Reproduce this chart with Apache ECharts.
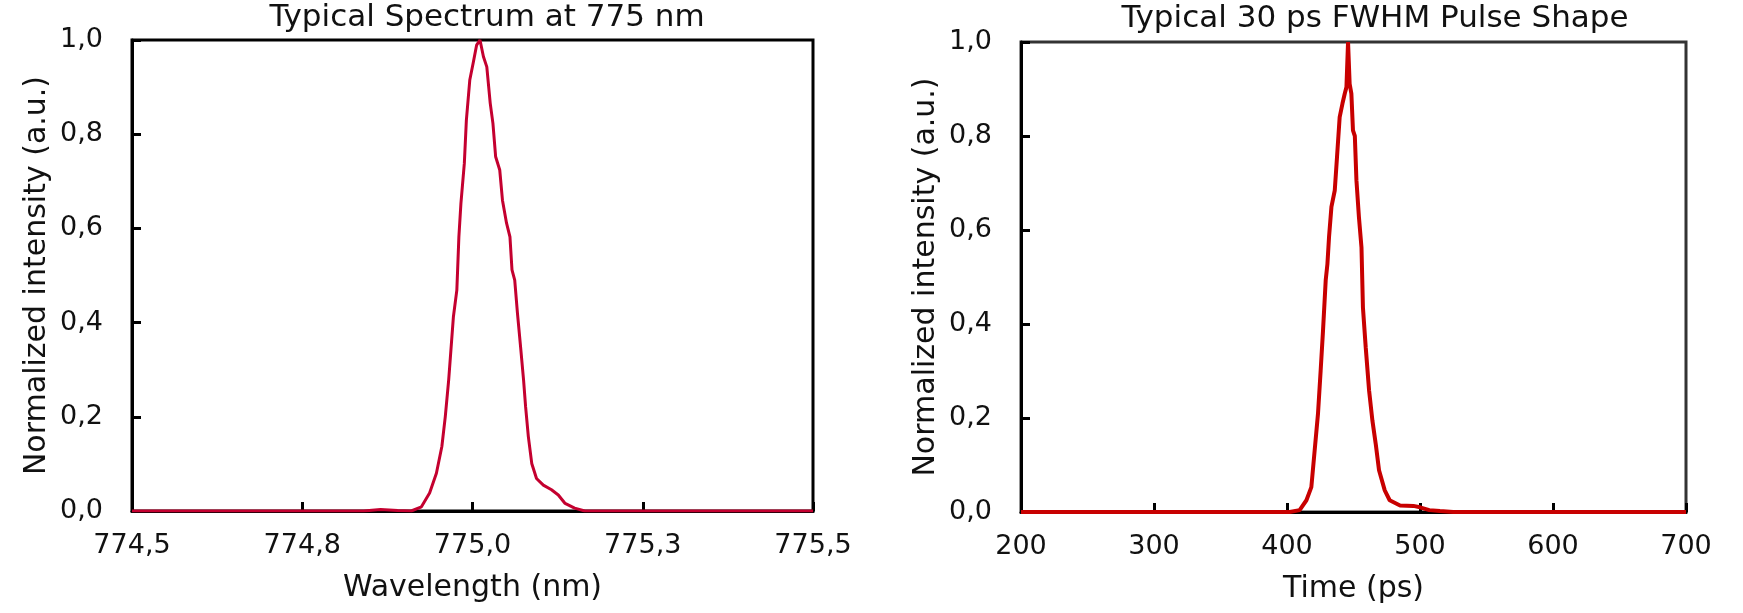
<!DOCTYPE html>
<html>
<head>
<meta charset="utf-8">
<script src="https://cdn.jsdelivr.net/npm/echarts@6/dist/echarts.min.js"></script>
<style>
  html, body { margin: 0; padding: 0; background: #fff; }
  #chart { width: 1743px; height: 613px; }
</style>
</head>
<body>
<div id="chart"></div>
<script>
// ── Data ───────────────────────────────────────────────────────────────

// Typical spectrum at 775 nm
const specWavelength = [774.5, 774.84, 774.865, 774.89, 774.91, 774.925, 774.937, 774.947, 774.955, 774.960,
  774.965, 774.972, 774.977, 774.980, 774.983, 774.988, 774.991, 774.996, 775.001, 775.006,
  775.011, 775.016, 775.021, 775.026, 775.030, 775.034, 775.040, 775.044, 775.050, 775.055,
  775.058, 775.062, 775.066, 775.071, 775.075, 775.078, 775.082, 775.087, 775.094, 775.104,
  775.116, 775.126, 775.136, 775.150, 775.165, 775.5];
const specIntensity = [0, 0, 0.003, 0.001, 0, 0.009, 0.038, 0.080, 0.137, 0.200,
  0.278, 0.413, 0.469, 0.582, 0.653, 0.738, 0.830, 0.915, 0.951, 0.989,
  1.0, 0.965, 0.943, 0.866, 0.823, 0.752, 0.724, 0.660, 0.611, 0.582,
  0.512, 0.490, 0.420, 0.342, 0.278, 0.221, 0.158, 0.101, 0.069, 0.055,
  0.045, 0.034, 0.016, 0.006, 0, 0];

// Typical 30 ps FWHM pulse shape
const pulseTime = [200, 402, 409.5, 414.6, 418.3, 420.8, 423.3, 425.3, 427.1, 429.1,
  430.4, 431.6, 433.4, 435.9, 437.6, 439.6, 441.7, 443.4, 444.7, 445.9,
  447.1, 448.4, 449.6, 451, 452.2, 454.1, 456, 457.1, 459.2, 461.7,
  464.2, 466.7, 469.2, 473.5, 477.2, 485, 495, 500, 507, 515,
  525, 700];
const pulseIntensity = [0, 0, 0.004, 0.025, 0.053, 0.131, 0.209, 0.301, 0.387, 0.493,
  0.528, 0.585, 0.649, 0.684, 0.755, 0.840, 0.869, 0.890, 0.904, 1.0,
  0.911, 0.890, 0.812, 0.80, 0.706, 0.627, 0.563, 0.435, 0.350, 0.259,
  0.195, 0.145, 0.089, 0.046, 0.025, 0.014, 0.013, 0.010, 0.004, 0.002,
  0, 0];

const titles = ["Typical Spectrum at 775 nm", "Typical 30 ps FWHM Pulse Shape"];
const xNames = ["Wavelength (nm)", "Time (ps)"];
const yName = "Normalized intensity (a.u.)";

// ── Helpers ────────────────────────────────────────────────────────────

const FONT = "DejaVu Sans";
const comma = (v, d) => v.toFixed(d).replace(".", ",");
const zip = (xs, ys) => xs.map((x, i) => [x, ys[i]]);

function xAxisFor(gridIndex, min, max, interval, digits) {
  return {
    type: "value", gridIndex, min, max, interval,
    name: xNames[gridIndex], nameLocation: "middle", nameGap: 62,
    nameTextStyle: { fontFamily: FONT, fontSize: 30, color: "#111" },
    axisLine: { show: true, lineStyle: { color: "#000", width: 3 } },
    axisTick: { show: true, inside: true, length: 9, lineStyle: { color: "#000", width: 3 } },
    axisLabel: { margin: 21, fontFamily: FONT, fontSize: 27, color: "#111",
      formatter: (v) => comma(v, digits) },
    splitLine: { show: false },
  };
}

function yAxisFor(gridIndex) {
  return {
    type: "value", gridIndex, min: 0, max: 1, interval: 0.2,
    name: yName, nameLocation: "middle", nameRotate: 90, nameGap: 80,
    nameTextStyle: { fontFamily: FONT, fontSize: 30, color: "#111" },
    axisLine: { show: true, lineStyle: { color: "#000", width: 3 } },
    axisTick: { show: true, inside: true, length: 9, lineStyle: { color: "#000", width: 3 } },
    axisLabel: { margin: 29, fontFamily: FONT, fontSize: 27, color: "#111",
      formatter: (v) => comma(v, 1) },
    splitLine: { show: false },
  };
}

// ── Chart ──────────────────────────────────────────────────────────────

const chart = echarts.init(document.getElementById("chart"));
chart.setOption({
  animation: false,
  title: [
    { text: titles[0], left: 482, top: -3, textAlign: "center",
      textStyle: { fontFamily: FONT, fontSize: 31, fontWeight: "normal", color: "#111" } },
    { text: titles[1], left: 1370, top: -2, textAlign: "center",
      textStyle: { fontFamily: FONT, fontSize: 31, fontWeight: "normal", color: "#111" } },
  ],
  grid: [
    { left: 132, top: 40, width: 681, height: 471, show: true,
      borderColor: "#000", borderWidth: 3 },
    { left: 1021, top: 42, width: 665, height: 470, show: true,
      borderColor: "#333", borderWidth: 3 },
  ],
  xAxis: [xAxisFor(0, 774.5, 775.5, 0.25, 1), xAxisFor(1, 200, 700, 100, 0)],
  yAxis: [yAxisFor(0), yAxisFor(1)],
  series: [
    { type: "line", xAxisIndex: 0, yAxisIndex: 0, data: zip(specWavelength, specIntensity),
      showSymbol: false, lineStyle: { color: "#c4002f", width: 3 } },
    { type: "line", xAxisIndex: 1, yAxisIndex: 1, data: zip(pulseTime, pulseIntensity),
      showSymbol: false, lineStyle: { color: "#c80000", width: 4 } },
  ],
});
</script>
</body>
</html>
